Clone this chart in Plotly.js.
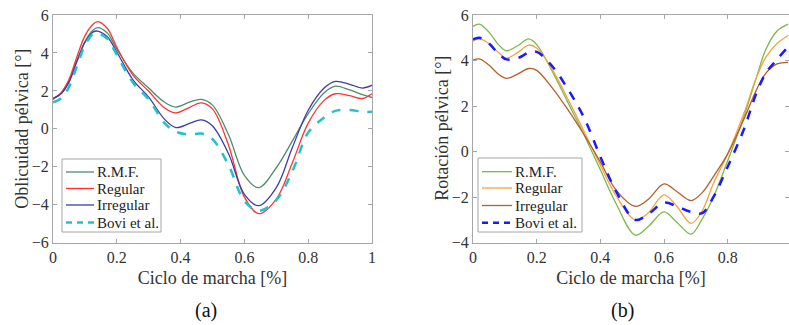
<!DOCTYPE html>
<html>
<head>
<meta charset="utf-8">
<script src="https://cdn.plot.ly/plotly-3.0.1.min.js"></script>
<style>html,body{margin:0;padding:0;background:#fff;}#chart{width:789px;height:325px;}</style>
</head>
<body>
<div id="chart"></div>
<script>
// ---- Panel (a): Oblicuidad pélvica ----
const xA = [0, 0.025, 0.05, 0.075, 0.1, 0.125, 0.14, 0.17, 0.2, 0.25, 0.3, 0.35, 0.385, 0.43, 0.465, 0.5, 0.55, 0.6, 0.645, 0.7, 0.75, 0.8, 0.85, 0.885, 0.93, 0.97, 1];
const oblRMF = [1.6, 1.85, 2.5, 3.6, 4.6, 5.2, 5.33, 5.05, 4.2, 2.95, 2.15, 1.4, 1.15, 1.42, 1.55, 1.25, -0.3, -2.45, -3.1, -2.05, -0.65, 0.8, 1.9, 2.25, 2.05, 1.8, 1.65];
const oblRegular = [1.55, 1.9, 2.6, 3.8, 4.9, 5.5, 5.65, 5.3, 4.3, 2.85, 1.98, 1.1, 0.84, 1.15, 1.37, 1.05, -0.85, -3.6, -4.47, -3.7, -1.8, 0.3, 1.5, 1.85, 1.75, 1.6, 1.85];
const oblIrregular = [1.6, 1.85, 2.45, 3.55, 4.55, 5.1, 5.15, 4.85, 4.05, 2.6, 1.67, 0.5, 0.07, 0.3, 0.47, 0.15, -1.3, -3.45, -4.05, -3.1, -1.0, 0.98, 2.15, 2.5, 2.35, 2.15, 2.3];
const oblBovi = [1.4, 1.6, 2.2, 3.3, 4.4, 5.0, 5.05, 4.75, 3.9, 2.45, 1.55, 0.3, -0.15, -0.3, -0.25, -0.55, -1.9, -3.8, -4.32, -3.75, -2.25, -0.2, 0.6, 0.95, 1.0, 0.9, 0.9];

// ---- Panel (b): Rotación pélvica ----
const xB = [0, 0.02, 0.05, 0.08, 0.105, 0.14, 0.175, 0.2, 0.25, 0.3, 0.35, 0.4, 0.45, 0.51, 0.55, 0.6, 0.64, 0.685, 0.72, 0.755, 0.8, 0.85, 0.89, 0.92, 0.955, 0.99];
const rotRMF = [5.5, 5.6, 5.25, 4.7, 4.43, 4.65, 4.95, 4.7, 3.5, 2.1, 0.7, -0.8, -2.3, -3.67, -3.3, -2.65, -3.1, -3.62, -2.95, -2.0, -0.4, 1.5, 3.25, 4.5, 5.3, 5.6];
const rotRegular = [4.85, 4.95, 4.75, 4.35, 4.1, 4.35, 4.68, 4.55, 3.58, 2.25, 0.85, -0.6, -1.95, -3.0, -2.7, -1.9, -2.4, -3.15, -2.6, -1.4, -0.1, 1.65, 3.25, 4.15, 4.75, 5.1];
const rotIrregular = [4.02, 4.07, 3.8, 3.4, 3.22, 3.4, 3.65, 3.57, 2.78, 1.8, 0.72, -0.45, -1.7, -2.4, -2.1, -1.42, -1.75, -2.15, -1.8, -1.1, -0.1, 1.4, 2.7, 3.45, 3.85, 3.92];
const rotBovi = [4.93, 5.0, 4.75, 4.3, 4.05, 4.1, 4.35, 4.38, 3.73, 2.7, 1.45, -0.22, -1.76, -3.0, -2.75, -2.24, -2.4, -2.65, -2.7, -2.0, -0.66, 0.95, 2.56, 3.45, 4.05, 4.6];

const seriesNames = ["R.M.F.", "Regular", "Irregular", "Bovi et al."];
const colorsA = ["#4f8c6c", "#ff3333", "#3d3daa", "#22c3c8"];
const colorsB = ["#7cb84a", "#f4a242", "#b3602e", "#1a1aff"];

const FONT = '"Liberation Serif", "Times New Roman", serif';
const W = 789, H = 325;

function mk(x, y, i, colors, xa, ya) {
  const dashed = i === 3;
  return {
    x: x, y: y, xaxis: xa, yaxis: ya,
    name: seriesNames[i], type: "scatter", mode: "lines", showlegend: false,
    line: {color: colors[i], width: dashed ? 2.5 : 1.3, dash: dashed ? "dash" : "solid", shape: "spline", smoothing: 1},
    hoverinfo: "skip"
  };
}

const dataA = [oblRMF, oblRegular, oblIrregular, oblBovi];
const dataB = [rotRMF, rotRegular, rotIrregular, rotBovi];
const traces = [];
dataA.forEach((y, i) => traces.push(mk(xA, y, i, colorsA, "x", "y")));
dataB.forEach((y, i) => traces.push(mk(xB, y, i, colorsB, "x2", "y2")));

// Manual legends (MATLAB-style compact boxes)
const shapes = [];
const annotations = [];
function legendBox(box, rows, lineX0, lineX1, textX, colors) {
  shapes.push({type: "rect", xref: "paper", yref: "paper", x0: box[0]/W, x1: box[1]/W, y0: 1 - box[3]/H, y1: 1 - box[2]/H,
    line: {color: "#a6a6a6", width: 1}, fillcolor: "#fff", layer: "above"});
  rows.forEach((ry, i) => {
    const dashed = i === 3;
    shapes.push({type: "line", xref: "paper", yref: "paper", x0: lineX0/W, x1: lineX1/W, y0: 1 - ry/H, y1: 1 - ry/H,
      line: {color: colors[i], width: dashed ? 2.5 : 1.3, dash: dashed ? "6px,5px" : "solid"}, layer: "above"});
    annotations.push({text: seriesNames[i], xref: "paper", yref: "paper", x: textX/W, y: 1 - ry/H, xanchor: "left", yanchor: "middle",
      showarrow: false, font: {family: FONT, size: 15, color: "#222"}});
  });
}
legendBox([62, 161, 159, 232], [172, 188.5, 205, 222.5], 66, 94, 95, colorsA);
legendBox([478, 582, 158, 232], [171.7, 188, 205.5, 222.7], 482, 512, 513, colorsB);

const titleFont = {family: FONT, size: 18, color: "#333"};
const plotMidY = 1 - 128.8/H;
annotations.push({text: "Oblicuidad pélvica [°]", xref: "paper", yref: "paper", x: 22/W, y: plotMidY, textangle: -90, xanchor: "center", yanchor: "middle", showarrow: false, font: titleFont});
annotations.push({text: "Rotación pélvica [°]", xref: "paper", yref: "paper", x: 442/W, y: plotMidY, textangle: -90, xanchor: "center", yanchor: "middle", showarrow: false, font: titleFont});
annotations.push({text: "(a)", xref: "paper", yref: "paper", x: 206/W, y: 1 - 310/H, xanchor: "center", yanchor: "middle", showarrow: false, font: {family: FONT, size: 20, color: "#111"}});
annotations.push({text: "(b)", xref: "paper", yref: "paper", x: 622/W, y: 1 - 310/H, xanchor: "center", yanchor: "middle", showarrow: false, font: {family: FONT, size: 20, color: "#111"}});

const axCommon = {
  showgrid: false, zeroline: false, showline: true, linecolor: "#a6a6a6", linewidth: 1,
  mirror: "ticks", ticks: "inside", ticklen: 4, tickcolor: "#a6a6a6",
  tickfont: {family: FONT, size: 16, color: "#333"}
};

const layout = {
  width: W, height: H,
  margin: {l: 0, r: 0, t: 0, b: 0},
  paper_bgcolor: "#fff", plot_bgcolor: "#fff",
  showlegend: false,
  font: {family: FONT},
  xaxis: Object.assign({}, axCommon, {domain: [53/W, 372/W], range: [0, 1], tickvals: [0, 0.2, 0.4, 0.6, 0.8, 1], ticktext: ["0", "0.2", "0.4", "0.6", "0.8", "1"], anchor: "y",
    title: {text: "Ciclo de marcha [%]", font: titleFont, standoff: 6}}),
  yaxis: Object.assign({}, axCommon, {domain: [1 - 242.7/H, 1 - 15/H], range: [-6, 6], tickvals: [-6, -4, -2, 0, 2, 4, 6], anchor: "x"}),
  xaxis2: Object.assign({}, axCommon, {domain: [473/W, 1], range: [0, 0.9925], tickvals: [0, 0.2, 0.4, 0.6, 0.8], ticktext: ["0", "0.2", "0.4", "0.6", "0.8"], anchor: "y2",
    title: {text: "Ciclo de marcha [%]", font: titleFont, standoff: 6}}),
  yaxis2: Object.assign({}, axCommon, {domain: [1 - 242.7/H, 1 - 15/H], range: [-4, 6], tickvals: [-4, -2, 0, 2, 4, 6], anchor: "x2"}),
  shapes: shapes,
  annotations: annotations
};

Plotly.newPlot("chart", traces, layout, {staticPlot: true, displayModeBar: false});
</script>
</body>
</html>
